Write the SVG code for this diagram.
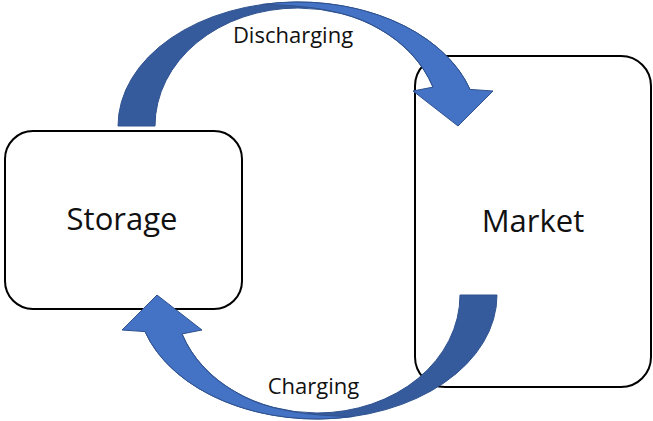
<svg xmlns="http://www.w3.org/2000/svg" xmlns:xlink="http://www.w3.org/1999/xlink" width="653" height="421" viewBox="0 0 653 421">
  <style>
    .box { fill: #ffffff; stroke: #000000; stroke-width: 2; }
    .big { font-family: "Open Sans", "Liberation Sans", sans-serif; font-size: 31px; fill: #111111; text-anchor: middle; }
    .lbl { font-family: "Open Sans", "Liberation Sans", sans-serif; font-size: 22px; fill: #111111; text-anchor: middle; }
    .back { fill: #365B9D; stroke: #2F528F; stroke-width: 1; stroke-linejoin: round; }
    .front { fill: #4472C4; stroke: #2F528F; stroke-width: 1; stroke-linejoin: round; }
  </style>
  <defs>
    <g id="curvedArrow">
      <path class="back" d="M118,126 A180,124 0 0 1 298,2 A180,124 0 0 1 470,89.4 L433,87.1 A143,118 0 0 0 298,8 A143,118 0 0 0 155,126 Z"/>
      <path class="front" d="M262,4.5 A180,124 0 0 1 470,89.4 L493,91 L458,126 L413,91 L433,87.1 A143,118 0 0 0 375,26.5 C350,12 310,5 262,4.5 Z"/>
    </g>
  </defs>
  <rect width="653" height="421" fill="#ffffff"/>
  <g id="storage">
    <rect class="box" x="5" y="131" width="237" height="178" rx="28" ry="28"/>
    <text class="big" x="122" y="230">Storage</text>
  </g>
  <g id="market">
    <rect class="box" x="415" y="56" width="236" height="331" rx="30" ry="30"/>
    <text class="big" x="533" y="232">Market</text>
  </g>
  <g id="connectors">
    <g id="discharging">
      <use xlink:href="#curvedArrow"/>
      <text class="lbl" x="293" y="43">Discharging</text>
    </g>
    <g id="charging">
      <use xlink:href="#curvedArrow" transform="rotate(180 307.5 210.5)"/>
      <text class="lbl" x="313.5" y="394">Charging</text>
    </g>
  </g>
</svg>
